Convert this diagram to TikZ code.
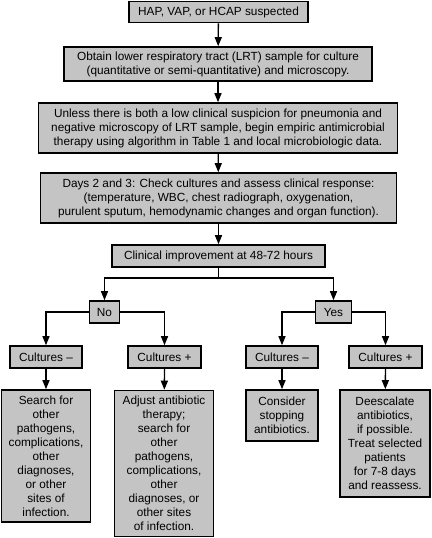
\documentclass[tikz,border=0pt]{standalone}
\usepackage{fontspec}
\setmainfont{Liberation Sans}
\usetikzlibrary{arrows.meta}
\definecolor{boxgray}{RGB}{196,196,196}
\begin{document}
\begin{tikzpicture}[x=1pt,y=-1pt,
  box/.style={draw=black,line width=1.6pt,fill=boxgray,align=center,inner sep=0pt,
    font=\fontsize{11.8}{14}\selectfont},
  arr/.style={line width=1.3pt,-{Triangle[length=9pt,width=7pt]}},
  ln/.style={line width=1.3pt}]
\useasboundingbox (0,0) rectangle (431,538);
\node[box,minimum width=179,minimum height=21] (b1) at (218.5,12) {HAP, VAP, or HCAP suspected};
\node[box,minimum width=308,minimum height=34] (b2) at (218,64) {Obtain lower respiratory tract (LRT) sample for culture\\(quantitative or semi-quantitative) and microscopy.};
\node[box,minimum width=359,minimum height=50] (b3) at (218,128) {Unless there is both a low clinical suspicion for pneumonia and\\negative microscopy of LRT sample, begin empiric antimicrobial\\therapy using algorithm in Table 1 and local microbiologic data.};
\node[box,minimum width=356,minimum height=50] (b4) at (218.5,198) {Days 2 and 3: Check cultures and assess clinical response:\\(temperature, WBC, chest radiograph, oxygenation,\\purulent sputum, hemodynamic changes and organ function).};
\node[box,minimum width=213,minimum height=22] (b5) at (218.5,256) {Clinical improvement at 48-72 hours};
\node[box,minimum width=30,minimum height=22] (no) at (104.5,312) {No};
\node[box,minimum width=36,minimum height=22] (yes) at (333.5,312) {Yes};
\node[box,minimum width=72,minimum height=22] (c1) at (46,357) {Cultures –};
\node[box,minimum width=73,minimum height=22] (c2) at (164.5,357) {Cultures +};
\node[box,minimum width=72,minimum height=22] (c3) at (282,357) {Cultures –};
\node[box,minimum width=73,minimum height=22] (c4) at (385.5,357) {Cultures +};
\node[box,minimum width=89,minimum height=132] (d1) at (46,456) {Search for\\other\\pathogens,\\complications,\\other\\diagnoses,\\or other\\sites of\\infection.};
\node[box,minimum width=99,minimum height=146] (d2) at (164,463.5) {Adjust antibiotic\\therapy;\\search for\\other\\pathogens,\\complications,\\other\\diagnoses, or\\other sites\\of infection.};
\node[box,minimum width=72,minimum height=51] (d3) at (282,415.5) {Consider\\stopping\\antibiotics.};
\node[box,minimum width=90,minimum height=107] (d4) at (385,443.5) {Deescalate\\antibiotics,\\if possible.\\Treat selected\\patients\\for 7-8 days\\and reassess.};
\draw[arr] (b1) -- (b2);
\draw[arr] (b2) -- (b3);
\draw[arr] (b3) -- (b4);
\draw[arr] (b4) -- (b5);
\coordinate (split) at (218.5,278);
\draw[ln] (b5) -- (split);
\draw[arr] (split) -| (no);
\draw[arr] (split) -| (yes);
\draw[arr] (no.west) -| (c1);
\draw[arr] (no.east) -| (c2);
\draw[arr] (yes.west) -| (c3);
\draw[arr] (yes.east) -| (c4);
\draw[arr] (c1) -- (d1);
\draw[arr] (c2) -- (d2);
\draw[arr] (c3) -- (d3);
\draw[arr] (c4) -- (d4);
\end{tikzpicture}
\end{document}
